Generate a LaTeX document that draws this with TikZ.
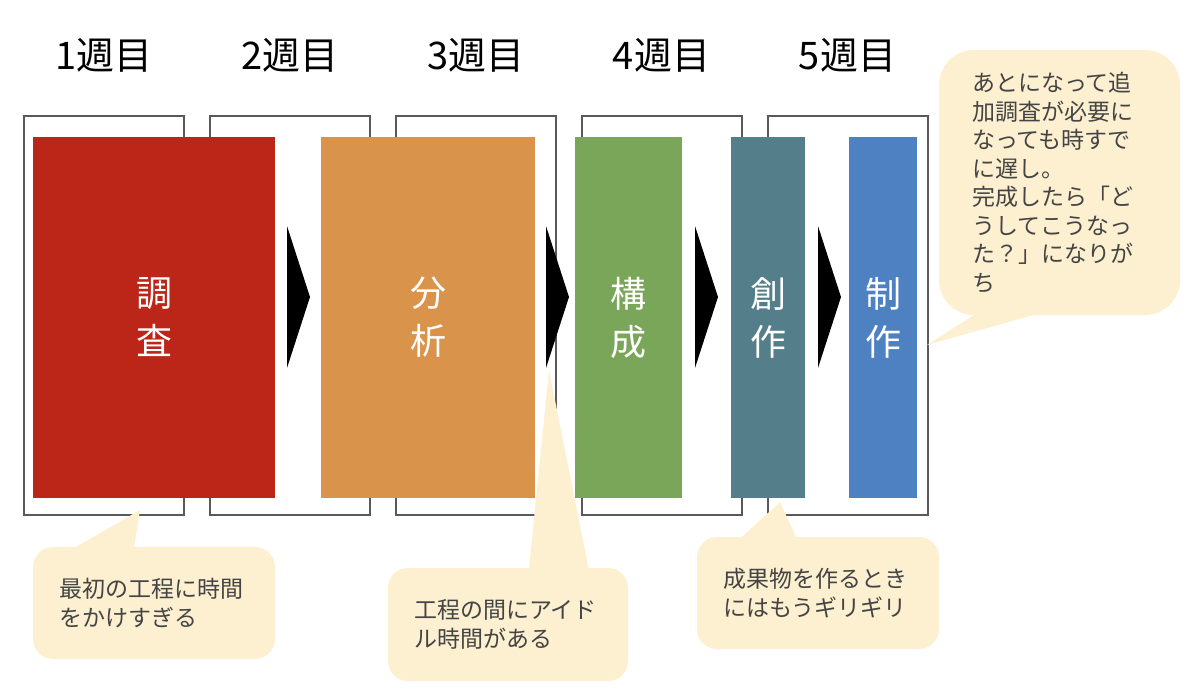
\documentclass[tikz,border=0pt]{standalone}
\usepackage{fontspec}
\setmainfont{Noto Sans CJK JP}
\usetikzlibrary{calc}
\definecolor{cred}{HTML}{BB2619}
\definecolor{corange}{HTML}{D9934A}
\definecolor{cgreen}{HTML}{7AA65A}
\definecolor{cteal}{HTML}{547E8A}
\definecolor{cblue}{HTML}{4D81C2}
\definecolor{ccream}{HTML}{FDF0D0}
\definecolor{cframe}{HTML}{595959}
\definecolor{ctext}{HTML}{444444}
\tikzset{
  week/.style={font=\fontsize{38}{42}\selectfont, text=black, inner sep=0pt},
  frame/.style={draw=cframe, line width=2pt, minimum height=399pt, minimum width=160pt, inner sep=0pt},
  stage/.style={minimum height=361pt, inner sep=0pt, text=white, align=center,
     font=\fontsize{36}{48}\selectfont},
  chevron/.style={fill=black},
  callout/.style={fill=ccream, rounded corners=20pt, text=ctext, align=left,
     font=\fontsize{23}{28.5}\selectfont, inner ysep=0pt},
  pointer/.style={fill=ccream},
}
\begin{document}
\begin{tikzpicture}[x=1pt,y=-1pt]
\useasboundingbox (0,0) rectangle (1200,697);
% week labels
\node[week] (w1) at (104,55) {1週目};
\node[week] (w2) at (290,55) {2週目};
\node[week] (w3) at (476,55) {3週目};
\node[week] (w4) at (661.5,55) {4週目};
\node[week] (w5) at (847.5,55) {5週目};
% frames
\node[frame] (f1) at (104,315.5) {};
\node[frame] (f2) at (290,315.5) {};
\node[frame] (f3) at (476,315.5) {};
\node[frame] (f4) at (661.5,315.5) {};
\node[frame] (f5) at (847.5,315.5) {};
% stage boxes
\node[stage, fill=cred, minimum width=242pt] (b1) at (154,317.5) {調\\査};
\node[stage, fill=corange, minimum width=214pt] (b2) at (428,317.5) {分\\析};
\node[stage, fill=cgreen, minimum width=107pt] (b3) at (628.5,317.5) {構\\成};
\node[stage, fill=cteal, minimum width=74pt] (b4) at (768,317.5) {創\\作};
\node[stage, fill=cblue, minimum width=68pt] (b5) at (883,317.5) {制\\作};
% chevrons
\fill[chevron] (287,226) -- (310,297) -- (287,368) -- cycle;
\fill[chevron] (546,226) -- (569,297) -- (546,368) -- cycle;
\fill[chevron] (695,226) -- (718,297) -- (695,368) -- cycle;
\fill[chevron] (818,226) -- (841,297) -- (818,368) -- cycle;
% callouts
\node[callout, inner xsep=26pt, text width=190pt, minimum height=112pt] (c1) at (154,603)
  {最初の工程に時間\\をかけすぎる};
\node[callout, inner xsep=26pt, text width=188pt, minimum height=113pt] (c2) at (508,624.5)
  {工程の間にアイド\\ル時間がある};
\node[callout, inner xsep=26pt, text width=190pt, minimum height=112pt] (c3) at (818,593)
  {成果物を作るとき\\にはもうギリギリ};
\node[callout, rounded corners=35pt, inner xsep=33pt, text width=175pt, minimum height=265pt] (c4) at (1059.5,182.5)
  {あとになって追\\加調査が必要に\\なっても時すで\\に遅し。\\完成したら「ど\\うしてこうなっ\\た？」になりが\\ち};
% pointers
\coordinate (a1) at (140,510);
\coordinate (a2) at (549,370);
\coordinate (a3) at (780,502);
\coordinate (a4) at (927,345);
\fill[pointer] ($(c1.north west)+(40,2)$) -- (a1) -- ($(c1.north west)+(101,2)$) -- cycle;
\fill[pointer] ($(c2.north west)+(141,2)$) -- (a2) -- ($(c2.north west)+(201,2)$) -- cycle;
\fill[pointer] ($(c3.north west)+(43,2)$) -- (a3) -- ($(c3.north west)+(100,2)$) -- cycle;
\fill[pointer] ($(c4.south west)+(38,-2)$) -- (a4) -- ($(c4.south west)+(101,-2)$) -- cycle;
\end{tikzpicture}
\end{document}
